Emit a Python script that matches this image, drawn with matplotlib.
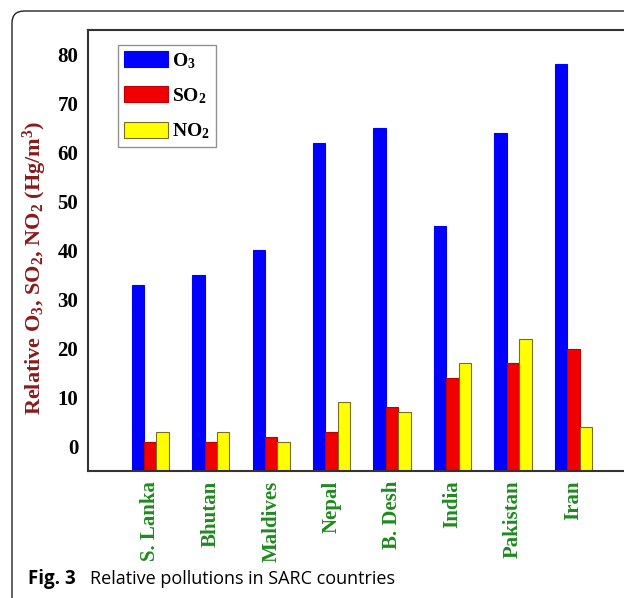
import matplotlib
matplotlib.use("Agg")
import matplotlib.pyplot as plt
import numpy as np
from matplotlib.patches import FancyBboxPatch

# values
countries = ["S. Lanka", "Bhutan", "Maldives", "Nepal", "B. Desh", "India", "Pakistan", "Iran"]
o3 = [33, 35, 40, 62, 65, 45, 64, 78]
so2 = [1, 1, 2, 3, 8, 14, 17, 20]
no2 = [3, 3, 1, 9, 7, 17, 22, 4]
yticks = [0, 10, 20, 30, 40, 50, 60, 70, 80]

serif = ["Liberation Serif", "DejaVu Serif"]
plt.rcParams["mathtext.fontset"] = "custom"
plt.rcParams["mathtext.rm"] = "Liberation Serif:bold"
plt.rcParams["mathtext.it"] = "Liberation Serif:bold"
plt.rcParams["mathtext.bf"] = "Liberation Serif:bold"

W, H = 624, 598
fig = plt.figure(figsize=(W / 100, H / 100), dpi=100)

# rounded frame round the figure (cropped on the right and bottom)
frame = FancyBboxPatch((12 / W, -0.05), 1.2, 1 - 11 / H + 0.05,
                       boxstyle="round,pad=0,rounding_size=0.02",
                       transform=fig.transFigure, fill=False,
                       edgecolor="#222222", linewidth=1.0)
fig.patches.append(frame)

left, right, bottom, top = 88, 632, 471, 30
ax = fig.add_axes([left / W, 1 - bottom / H, (right - left) / W, (bottom - top) / H])

ymin, ymax = -5, 85
x = np.arange(len(countries))
w = 0.205
series = [
    (o3, "O$_3$", "#0000ff", "#0000ff", -w),
    (so2, "SO$_2$", "#f00000", "#c00000", 0),
    (no2, "NO$_2$", "#ffff00", "#7a6e1e", w),
]
for vals, lab, fc, ec, off in series:
    v = np.array(vals, dtype=float)
    ax.bar(x + off, v - ymin, bottom=ymin, width=w, color=fc,
           edgecolor=ec, linewidth=0.8, label=lab)

ax.set_xlim(-1.03, 7.97)
ax.set_ylim(ymin, ymax)
ax.set_yticks(yticks)
ax.set_yticklabels([str(t) for t in yticks], fontfamily=serif,
                   fontweight="bold", fontsize=15)
ax.set_xticks(x)
ax.set_xticklabels(countries, rotation=90, fontfamily=serif, fontweight="bold",
                   fontsize=15, color="#1f8a1f", va="top")
ax.tick_params(axis="both", length=0)
ax.tick_params(axis="y", pad=7)
ax.tick_params(axis="x", pad=7)
for s in ["left", "top", "bottom"]:
    ax.spines[s].set_color("#333333")
    ax.spines[s].set_linewidth(1.5)
ax.spines["right"].set_visible(False)

ax.set_ylabel("Relative O$_3$, SO$_2$, NO$_2$ (Hg/m$^3$)", fontfamily=serif,
              fontweight="bold", fontsize=16, color="#8b1a1a")
ax.yaxis.set_label_coords(-0.072, 0.46)

leg = ax.legend(loc="upper left", bbox_to_anchor=((118 - left) / (right - left), (bottom - 45) / (bottom - top)),
                borderaxespad=0, fancybox=False, edgecolor="#777777",
                prop={"family": serif, "weight": "bold", "size": 14},
                handlelength=2.25, handleheight=0.9, labelspacing=0.8,
                handletextpad=0.25, borderpad=0.3)
leg.get_frame().set_linewidth(1.0)

fig.text(28 / W, 1 - 579 / H, "Fig. 3", fontfamily=["Open Sans", "DejaVu Sans"],
         fontweight="bold", fontsize=13.5, va="center", ha="left")
fig.text(90 / W, 1 - 579 / H, "Relative pollutions in SARC countries",
         fontfamily=["Open Sans", "DejaVu Sans"], fontsize=13, va="center", ha="left")

fig.savefig("out.png", dpi=100)
